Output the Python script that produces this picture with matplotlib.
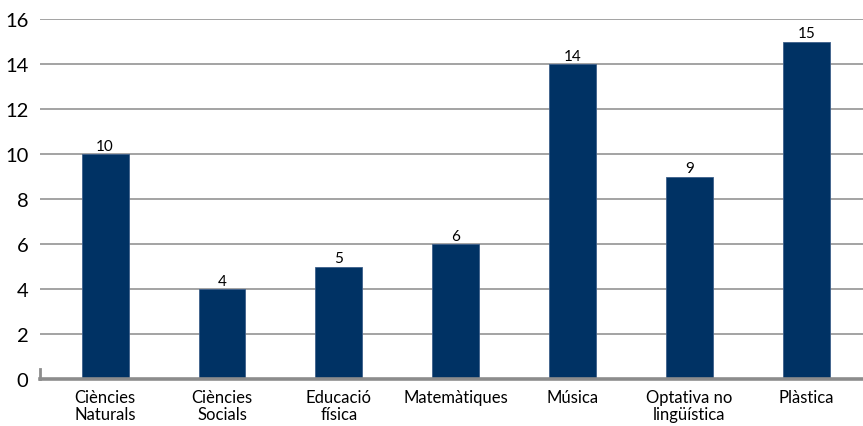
import matplotlib

matplotlib.use("Agg")

import matplotlib.pyplot as plt

plt.rcParams["font.family"] = ["Lato", "DejaVu Sans"]

categories = [
    "Ciències\nNaturals",
    "Ciències\nSocials",
    "Educació\nfísica",
    "Matemàtiques",
    "Música",
    "Optativa no\nlingüística",
    "Plàstica",
]
values = [10, 4, 5, 6, 14, 9, 15]
y_ticks = [0, 2, 4, 6, 8, 10, 12, 14, 16]

BAR_COLOR = "#003264"
GRID_COLOR = "#a3a3a3"

fig = plt.figure(figsize=(8.63, 4.27), dpi=100)
ax = fig.add_axes([0.046, 0.110, 0.954, 0.843])

x = range(len(categories))
bars = ax.bar(x, values, width=0.40, color=BAR_COLOR, edgecolor="#3d5f8a",
              linewidth=0.6, zorder=3)
for rect, v in zip(bars, values):
    ax.text(rect.get_x() + rect.get_width() / 2, v + 0.05, str(v),
            ha="center", va="bottom", fontsize=11, color="black")

ax.set_xlim(-0.56, 6.485)
ax.set_ylim(0, 16)
ax.set_yticks(y_ticks)
ax.set_xticks(list(x))
ax.set_xticklabels(categories, fontsize=12, linespacing=1.12)
ax.tick_params(axis="y", length=0, labelsize=14.5, pad=8)
ax.tick_params(axis="x", length=0, pad=7)

for t in y_ticks[1:]:
    ax.axhline(t, color=GRID_COLOR, linewidth=1.4, zorder=1)

for side in ("top", "right"):
    ax.spines[side].set_visible(False)
ax.spines["bottom"].set_color("#8c8c8c")
ax.spines["bottom"].set_linewidth(2.6)
ax.spines["bottom"].set_zorder(4)
ax.spines["left"].set_color("#8c8c8c")
ax.spines["left"].set_linewidth(2)
ax.spines["left"].set_bounds(0, 0.45)

fig.savefig("out.png", dpi=100)
